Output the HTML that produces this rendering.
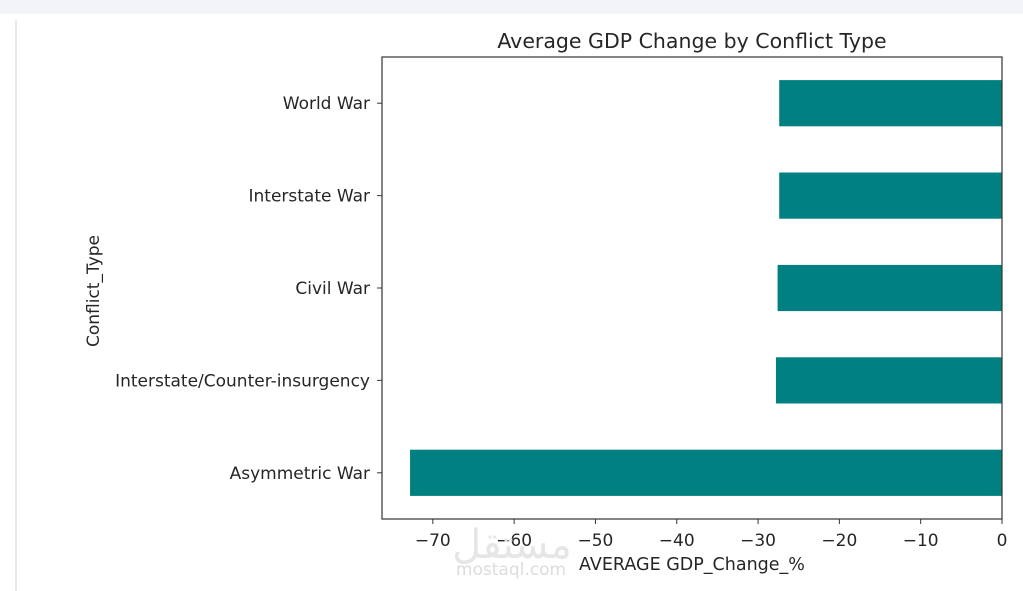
<!DOCTYPE html>
<html><head><meta charset="utf-8"><style>
html,body{margin:0;padding:0;background:#fff;width:1023px;height:591px;overflow:hidden}
text{font-family:"DejaVu Sans","Liberation Sans",sans-serif;fill:#262626}
</style></head><body>
<svg id="chart" width="1023" height="591">
<rect x="0" y="0" width="1023" height="14" fill="#f3f4f8"/>
<line x1="16" y1="20" x2="16" y2="591" stroke="#e2e2e2" stroke-width="1.5"/>
<text x="692" y="48" font-size="20.5" text-anchor="middle">Average GDP Change by Conflict Type</text>
<g id="bars"></g>
<g id="yticks"></g>
<g id="xticks"></g>
<rect x="382" y="57" width="620" height="462" fill="none" stroke="#333" stroke-width="1.2"/>
<text x="692" y="570" font-size="17.5" text-anchor="middle">AVERAGE GDP_Change_%</text>
<text x="0" y="0" font-size="17" text-anchor="middle" transform="translate(99,291) rotate(-90)">Conflict_Type</text>
<text x="512" y="558" font-size="40" text-anchor="middle" style="fill:#e6e6e6;font-family:'DejaVu Sans',sans-serif">مستقل</text>
<text x="511" y="575" font-size="17" text-anchor="middle" style="fill:#dcdcdc">mostaql.com</text>
</svg>
<script>
const categories = ["World War","Interstate War","Civil War","Interstate/Counter-insurgency","Asymmetric War"];
const values = [-27.4,-27.4,-27.6,-27.8,-72.8];
const xTicks = [-70,-60,-50,-40,-30,-20,-10,0];
const xTickLabels = ["\u221270","\u221260","\u221250","\u221240","\u221230","\u221220","\u221210","0"];
const NS="http://www.w3.org/2000/svg";
const L=382,R=1002,T=57,B=519,xmin=-76.25,xmax=0;
function x(v){return L+(v-xmin)/(xmax-xmin)*(R-L);}
const band=(B-T)/categories.length;
function y(i){return T+band*(i+0.5);}
const bars=document.getElementById('bars'),yt=document.getElementById('yticks'),xt=document.getElementById('xticks');
categories.forEach((c,i)=>{
  const r=document.createElementNS(NS,'rect');
  const x0=x(Math.min(values[i],0)),x1=x(Math.max(values[i],0));
  r.setAttribute('x',x0);r.setAttribute('width',x1-x0);
  r.setAttribute('y',y(i)-band*0.25);r.setAttribute('height',band*0.5);
  r.setAttribute('fill','#008080');
  
  
  bars.appendChild(r);
  const tk=document.createElementNS(NS,'line');
  tk.setAttribute('x1',L-5);tk.setAttribute('x2',L);tk.setAttribute('y1',y(i));tk.setAttribute('y2',y(i));
  tk.setAttribute('stroke','#333');
  
  
  yt.appendChild(tk);
  const t=document.createElementNS(NS,'text');
  t.setAttribute('x',L-12);t.setAttribute('y',y(i)+6);t.setAttribute('font-size','17');t.setAttribute('text-anchor','end');
  t.textContent=c;
  
  
  yt.appendChild(t);
});
xTicks.forEach((v,i)=>{
  const tk=document.createElementNS(NS,'line');
  tk.setAttribute('x1',x(v));tk.setAttribute('x2',x(v));tk.setAttribute('y1',B);tk.setAttribute('y2',B+5);
  tk.setAttribute('stroke','#333');
  
  
  xt.appendChild(tk);
  const t=document.createElementNS(NS,'text');
  t.setAttribute('x',x(v));t.setAttribute('y',B+27);t.setAttribute('font-size','17');t.setAttribute('text-anchor','middle');
  t.textContent=xTickLabels[i];
  
  
  xt.appendChild(t);
});
</script>
</body></html>
